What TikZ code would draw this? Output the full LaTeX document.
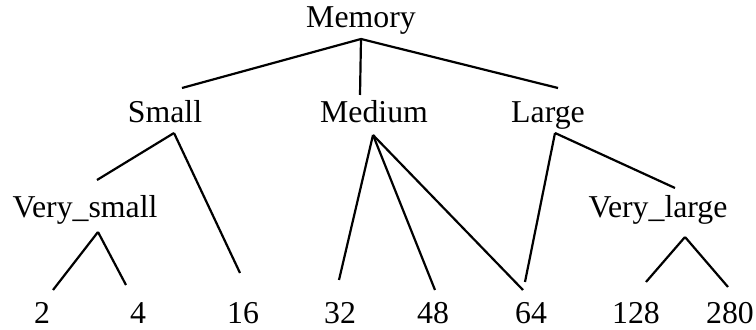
\documentclass[tikz,border=0pt]{standalone}
\usepackage{fontspec}
\setmainfont{Liberation Serif}
\begin{document}
\begin{tikzpicture}[x=0.5pt,y=-0.5pt,
  lbl/.style={anchor=base, inner sep=0pt, font=\fontsize{15.9}{18}\selectfont},
  edge/.style={line width=1.1pt}]
\useasboundingbox (0,0) rectangle (756,330);
% labels
\node[lbl] (memory) at (361,28) {Memory};
\node[lbl] (small) at (165,123) {Small};
\node[lbl] (medium) at (374,123) {Medium};
\node[lbl] (large) at (548,123) {Large};
\node[lbl] (vsmall) at (85,218) {Very\_small};
\node[lbl] (vlarge) at (658,218) {Very\_large};
\node[lbl] (n2) at (42,324) {2};
\node[lbl] (n4) at (138,324) {4};
\node[lbl] (n16) at (243,324) {16};
\node[lbl] (n32) at (340,324) {32};
\node[lbl] (n48) at (433,324) {48};
\node[lbl] (n64) at (531,324) {64};
\node[lbl] (n128) at (636,324) {128};
\node[lbl] (n280) at (730,324) {280};
% connector ends
\coordinate (memB) at (361,39);
\coordinate (smallT) at (182,88);
\coordinate (mediumT) at (360,95);
\coordinate (largeT) at (558,88);
\coordinate (smallB) at (174,133);
\coordinate (vsmallT) at (97,180);
\coordinate (n16T) at (240,273);
\coordinate (mediumB) at (373,135);
\coordinate (n32T) at (339,280);
\coordinate (n48T) at (435,290);
\coordinate (n64Ta) at (523,290);
\coordinate (largeB) at (555,133);
\coordinate (n64Tb) at (525,282);
\coordinate (vlargeT) at (675,188);
\coordinate (vsmallB) at (98,232);
\coordinate (n2T) at (53,290);
\coordinate (n4T) at (126,285);
\coordinate (vlargeB) at (685,237);
\coordinate (n128T) at (646,282);
\coordinate (n280T) at (728,287);
% connectors
\draw[edge] (memB) -- (smallT);
\draw[edge] (memB) -- (mediumT);
\draw[edge] (memB) -- (largeT);
\draw[edge] (smallB) -- (vsmallT);
\draw[edge] (smallB) -- (n16T);
\draw[edge] (mediumB) -- (n32T);
\draw[edge] (mediumB) -- (n48T);
\draw[edge] (mediumB) -- (n64Ta);
\draw[edge] (largeB) -- (n64Tb);
\draw[edge] (largeB) -- (vlargeT);
\draw[edge] (vsmallB) -- (n2T);
\draw[edge] (vsmallB) -- (n4T);
\draw[edge] (vlargeB) -- (n128T);
\draw[edge] (vlargeB) -- (n280T);
\end{tikzpicture}
\end{document}
